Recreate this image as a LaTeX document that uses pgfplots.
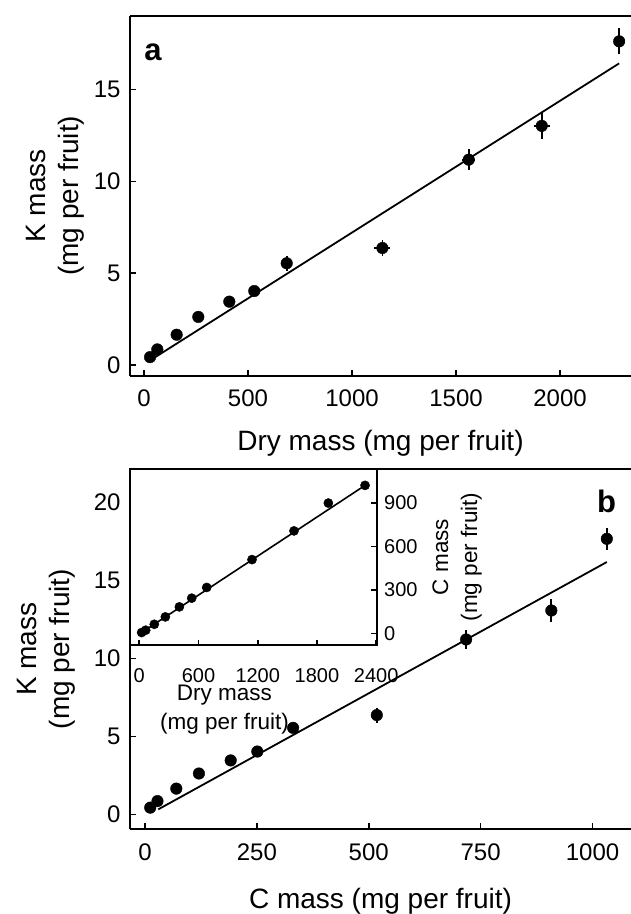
\documentclass[border=0pt]{standalone}
\usepackage{pgfplots}
\pgfplotsset{compat=1.18}
\usepackage{pgfplotstable}
\usepackage{fontspec}
\setmainfont{Liberation Sans}

\pgfplotstableread{
x     y      ex   ey
29    0.43   0    0
64    0.85   0    0
157   1.65   0    0
261   2.62   0    0
410   3.45   0    0
530   4.03   0    0
686   5.54   0    0.42
1146  6.37   38   0.44
1561  11.18  30   0.56
1912  13.02  38   0.72
2284  17.62  0    0.70
}\dataA

\pgfplotstableread{
x     y      ey
11.7  0.43   0
27.9  0.85   0
70    1.65   0
120.5 2.62   0
191.5 3.46   0
251   4.03   0
331   5.55   0.32
518   6.37   0.48
717.6 11.22  0.60
908   13.08  0.74
1032  17.68  0.72
}\dataB

\pgfplotstableread{
x     y
24    7
65    23
152   64
264   115
406   184
531   244
683   318
1142  510
1567  708
1915  900
2287  1022
}\dataInset

\pgfplotsset{
  mystyle/.style={
    scale only axis,
    clip=false,
    anchor=south west,
    tick align=inside,
    major tick length=6pt,
    every tick/.style={black, line width=1.6pt},
    axis line style={line width=2pt},
    /pgf/number format/assume math mode=true,
    /pgf/number format/set thousands separator={},
    xticklabel style={font=\fontsize{24}{28}\selectfont, yshift=-11pt},
    yticklabel style={font=\fontsize{24}{28}\selectfont, xshift=-6pt},
    label style={font=\fontsize{28}{33}\selectfont},
  },
}

\begin{document}
\begin{tikzpicture}
\useasboundingbox (0pt,0pt) rectangle (631pt,914pt);

% ---------------- panel a ----------------
\begin{axis}[mystyle,
  at={(130pt,538.3pt)},
  width=501pt, height=359.7pt,
  xmin=-67.3, xmax=2341, ymin=-0.58, ymax=19,
  axis x line*=box, axis y line*=left,
  xtick pos=left, ytick pos=left,
  xtick={0,500,1000,1500,2000},
  ytick={0,5,10,15},
  xlabel={Dry mass (mg per fruit)},
  ylabel={\begin{tabular}{@{}c@{}}K mass\\(mg per fruit)\end{tabular}},
  xlabel style={at={(axis description cs:0.5,-0.188)}, anchor=center},
  ylabel style={at={(axis description cs:-0.149,0.5)}, anchor=center},
]
\addplot[black, line width=1.8pt, no marks] coordinates {(50,0.40) (2284,16.42)};
\addplot[black, only marks, mark=*, mark size=5.8pt,
  error bars/.cd, x dir=both, x explicit, y dir=both, y explicit,
  error mark=none, error bar style={line width=1.8pt}]
  table[x=x, y=y, x error=ex, y error=ey] {\dataA};
\node[font=\bfseries\fontsize{31}{35}\selectfont] at (axis cs:43,17.05) {a};
\end{axis}

% ---------------- panel b ----------------
\begin{axis}[mystyle,
  at={(130pt,84.7pt)},
  width=501pt, height=360.3pt,
  xmin=-33.5, xmax=1086, ymin=-0.96, ymax=22.16,
  axis x line*=box, axis y line*=left,
  xtick pos=left, ytick pos=left,
  xtick={0,250,500,750,1000},
  ytick={0,5,10,15,20},
  xlabel={C mass (mg per fruit)},
  ylabel={\begin{tabular}{@{}c@{}}K mass\\(mg per fruit)\end{tabular}},
  xlabel style={at={(axis description cs:0.5,-0.201)}, anchor=center},
  ylabel style={at={(axis description cs:-0.167,0.5)}, anchor=center},
]
\addplot[black, line width=1.8pt, no marks] coordinates {(29.7,0.32) (1032,16.19)};
\addplot[black, only marks, mark=*, mark size=5.8pt,
  error bars/.cd, y dir=both, y explicit,
  error mark=none, error bar style={line width=1.8pt}]
  table[x=x, y=y, y error=ey] {\dataB};
\node[font=\bfseries\fontsize{31}{35}\selectfont] at (axis cs:1031.7,20.1) {b};
\end{axis}

% ---------------- inset ----------------
\begin{axis}[mystyle,
  at={(130pt,268.7pt)},
  width=246.7pt, height=176.6pt,
  xmin=-94, xmax=2405, ymin=-81, ymax=1137,
  axis background/.style={fill=white},
  major tick length=5.5pt,
  xtick pos=left, ytick pos=right,
  yticklabel pos=right,
  xtick={0,600,1200,1800,2400},
  ytick={0,300,600,900},
  xticklabel style={font=\fontsize{20}{24}\selectfont, yshift=-9pt},
  yticklabel style={font=\fontsize{20}{24}\selectfont, xshift=10pt},
  label style={font=\fontsize{22.5}{29}\selectfont},
  xlabel={\begin{tabular}{@{}c@{}}Dry mass\\(mg per fruit)\end{tabular}},
  ylabel={\begin{tabular}{@{}c@{}}C mass\\(mg per fruit)\end{tabular}},
  xlabel style={at={(axis description cs:0.383,-0.36)}, anchor=center},
  ylabel style={at={(axis description cs:1.325,0.5)}, anchor=center},
]
\addplot[black, line width=1.6pt, no marks] coordinates {(10,0.7) (2290,1023.3)};
\addplot[black, only marks, mark=*, mark size=4.6pt] table[x=x, y=y] {\dataInset};
\end{axis}
\end{tikzpicture}
\end{document}
